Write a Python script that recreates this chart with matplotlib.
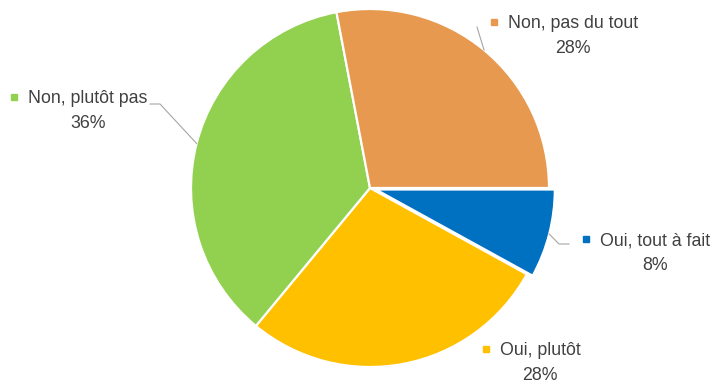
import math
import matplotlib.pyplot as plt

W, H = 718, 384

labels = ["Oui, tout à fait", "Oui, plutôt", "Non, plutôt pas", "Non, pas du tout"]
shares = [8, 28, 36, 28]
colors = ["#0070C0", "#FFC000", "#92D050", "#E6994F"]

# Position des étiquettes (en pixels, origine en haut à gauche) : centre du texte, ligne de base du nom
label_pos = {
    "Oui, tout à fait": (655, 245),
    "Oui, plutôt": (540, 355),
    "Non, plutôt pas": (88, 103),
    "Non, pas du tout": (573, 28),
}
# Lignes de rappel : coude puis extrémité près du texte (None = pas de ligne)
leaders = {
    "Oui, tout à fait": [(559, 244), (569, 244)],
    "Oui, plutôt": None,
    "Non, plutôt pas": [(160, 104), (150, 104)],
    "Non, pas du tout": [(477, 27)],
}

CX, CY, R = 370, 188, 179
TEXT = "#404040"

plt.rcParams["font.family"] = ["Liberation Sans", "DejaVu Sans"]

fig = plt.figure(figsize=(W / 100, H / 100), dpi=100)
ax = fig.add_axes([0, 0, 1, 1])

# décalage en unités de données (pie ne le multiplie pas par le rayon)
explode = [6, 0, 0, 0]
wedges, _ = ax.pie(
    shares, colors=colors, startangle=0, counterclock=False,
    center=(CX, H - CY), radius=R, explode=explode,
    wedgeprops=dict(edgecolor="white", linewidth=1.6),
    frame=True,
)
# pie() touche aux limites : on les remet en pixels après coup
ax.set_xlim(0, W)
ax.set_ylim(0, H)
ax.set_aspect("equal")
ax.axis("off")

for w, lab, val in zip(wedges, labels, shares):
    tx, ty = label_pos[lab]
    ty = H - ty
    name = ax.text(tx, ty, lab, ha="center", va="baseline", fontsize=12.8, color=TEXT)
    ax.text(tx, ty - 25, f"{val}%", ha="center", va="baseline", fontsize=12.8, color=TEXT)

    # petit carré de couleur devant le nom
    fig.canvas.draw()
    bb = name.get_window_extent().transformed(ax.transData.inverted())
    ax.plot(bb.x0 - 14, ty + 6, marker="s", markersize=5, color=w.get_facecolor(),
            linestyle="none")

    pts = leaders[lab]
    if pts:
        mid = math.radians((w.theta1 + w.theta2) / 2)
        cx, cy = w.center
        x0 = cx + w.r * math.cos(mid)
        y0 = cy + w.r * math.sin(mid)
        xs = [x0] + [p[0] for p in pts]
        ys = [y0] + [H - p[1] for p in pts]
        ax.plot(xs, ys, color="#A6A6A6", linewidth=0.8)

fig.savefig("out.png", dpi=100)
